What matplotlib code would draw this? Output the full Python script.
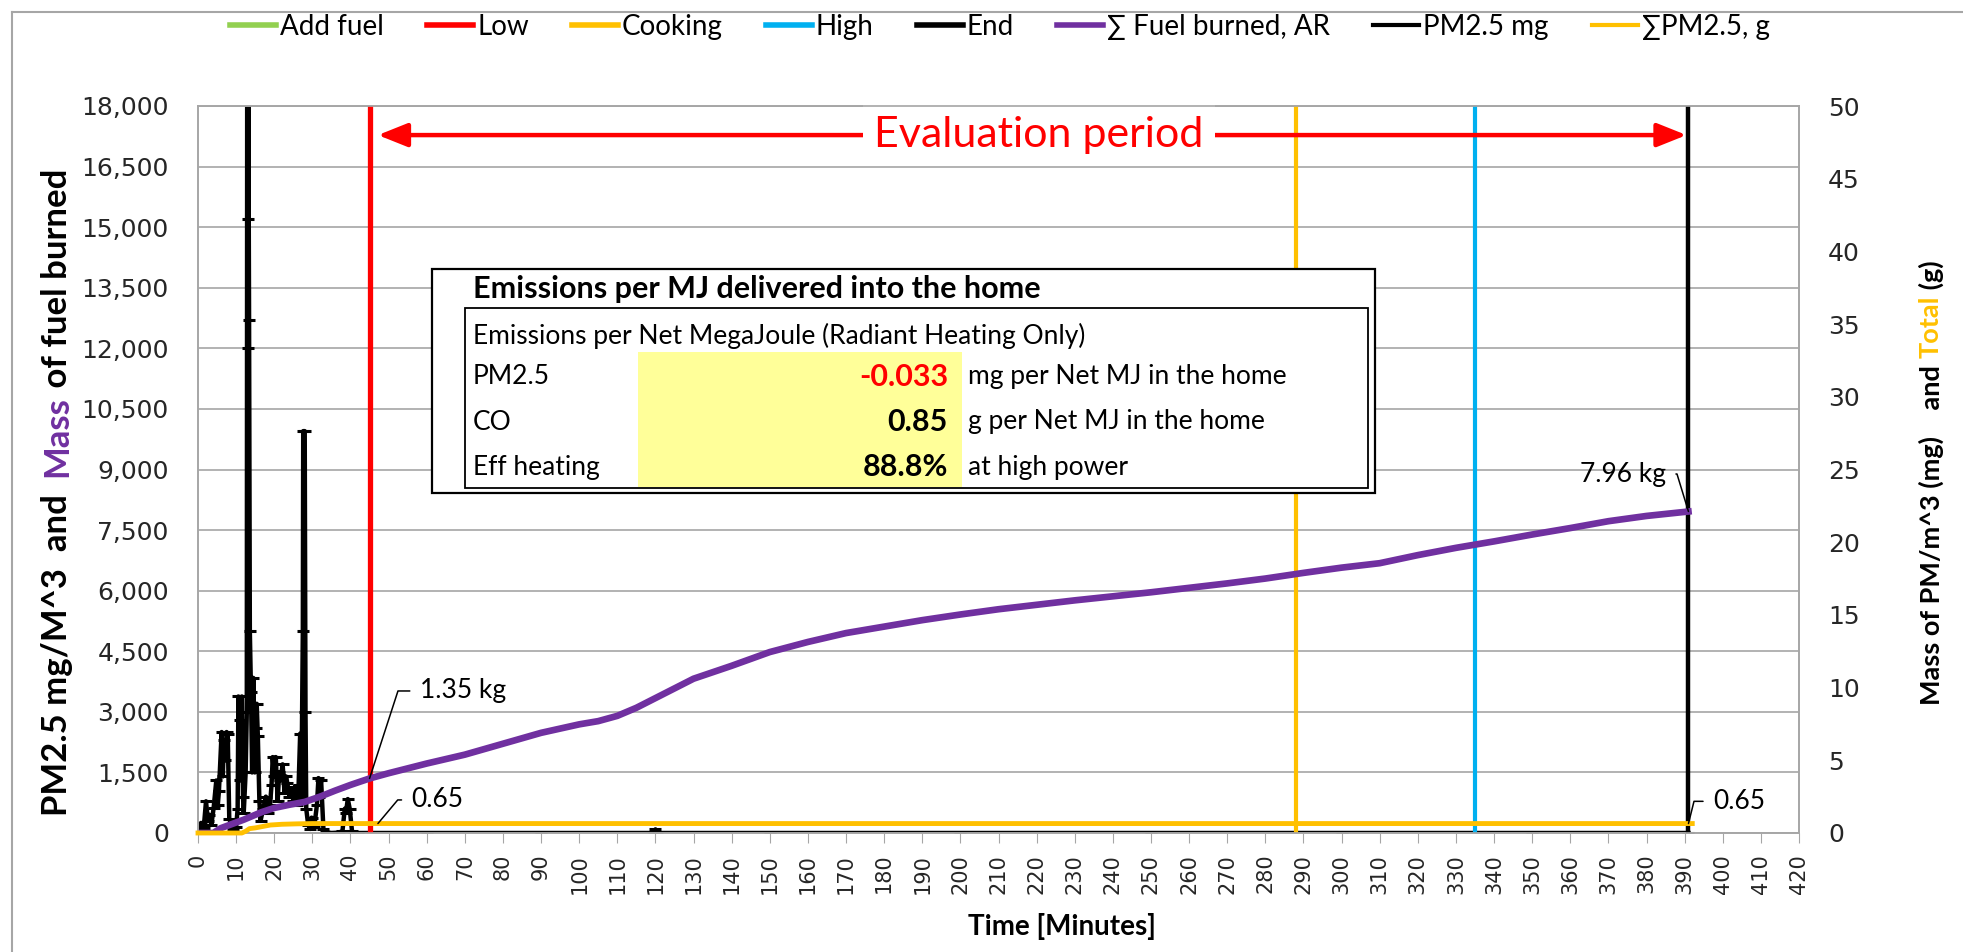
import numpy as np
import matplotlib.pyplot as plt
from matplotlib.lines import Line2D
from matplotlib.patches import Rectangle
from matplotlib.ticker import FuncFormatter

plt.rcParams['font.family'] = ['Lato', 'DejaVu Sans']

# PM2.5 concentration, mg/m^3 (left axis)
pm_min = [
    0.0, 0.8, 1.5, 2.1, 2.6, 3.0, 3.5, 4.1, 4.8, 5.2,
    5.5, 6.2, 6.5, 6.8, 7.2, 7.5, 7.8, 8.2, 9.1, 10.0,
    10.4, 10.6, 10.9, 11.1, 11.5, 11.8, 12.0, 12.5, 12.8, 12.9,
    13.0, 13.1, 13.2, 13.4, 13.6, 13.9, 14.2, 14.5, 14.9, 15.2,
    15.4, 15.7, 16.1, 16.4, 17.1, 17.8, 18.4, 18.9, 19.3, 19.6,
    20.0, 20.4, 20.9, 21.3, 21.6, 22.2, 22.7, 23.1, 23.4, 24.0,
    24.6, 25.0, 25.4, 25.9, 26.4, 26.8, 27.1, 27.5, 27.6, 28.0,
    28.2, 28.4, 28.9, 29.4, 29.8, 30.5, 31.2, 31.6, 31.8, 32.3,
    32.9, 33.5, 35.0, 37.0, 37.9, 38.5, 38.8, 39.3, 39.8, 40.4,
    41.0, 42.0, 60.0, 90.0, 119.5, 120.0, 120.5, 150.0, 200.0, 250.0,
    300.0, 350.0, 391.0,
]
pm_mg = [
    0, 250, 120, 785, 300, 450, 200, 620, 1300, 700,
    1050, 2500, 1400, 2300, 1800, 2500, 2450, 350, 100, 150,
    600, 3380, 1300, 2800, 3380, 900, 500, 1500, 3000, 18500,
    15200, 12000, 18500, 12700, 5000, 3500, 1500, 3840, 1500, 2600,
    3200, 2400, 800, 300, 600, 900, 500, 700, 1200, 1880,
    1400, 1880, 800, 1500, 1300, 1700, 1000, 1400, 1250, 900,
    1100, 800, 1150, 700, 1200, 2460, 800, 5000, 9950, 9950,
    3000, 600, 200, 100, 380, 150, 700, 1360, 900, 1300,
    100, 20, 0, 10, 50, 600, 500, 840, 600, 50,
    0, 0, 0, 0, 0, 90, 0, 0, 0, 0,
    0, 0, 0,
]

# cumulative fuel burned, g (left axis)
fuel_min = [0, 4, 6, 8, 12, 16.7, 20, 24, 28, 32,
            36, 40, 45, 50, 60, 70, 80, 90, 100, 105,
            110, 115, 120, 130, 140, 150, 160, 170, 180, 190,
            200, 210, 220, 230, 240, 250, 260, 270, 280, 290,
            300, 310, 320, 330, 340, 350, 360, 370, 380, 391]
fuel_g = [0, 0, 120, 190, 330, 517, 620, 700, 770, 900,
          1050, 1190, 1350, 1480, 1720, 1940, 2210, 2480, 2690, 2770,
          2900, 3100, 3340, 3820, 4140, 4480, 4730, 4950, 5110, 5270,
          5410, 5540, 5650, 5760, 5860, 5960, 6070, 6180, 6300, 6440,
          6570, 6680, 6880, 7060, 7220, 7390, 7550, 7720, 7850, 7960]

# cumulative PM2.5, g (right axis)
cum_min = [0, 11.5, 12.5, 13.5, 15, 17, 19, 22, 26, 30, 392]
cum_g = [0, 0, 0.12, 0.3, 0.35, 0.45, 0.55, 0.6, 0.63, 0.65, 0.65]

# test phase markers, minutes
add_fuel_min = []
low_min = [45]
cooking_min = [288]
high_min = [335]
end_min = [391]

# summary table
pm_per_mj = -0.033
co_per_mj = 0.85
eff_heating = 88.8

W, H = 1963, 952
fig = plt.figure(figsize=(W / 100, H / 100), dpi=100)
ax = fig.add_axes([198 / W, 1 - 833 / H, 1601 / W, 727 / H])
ax2 = ax.twinx()

grid_c = '#A6A6A6'
ax.set_xlim(0, 420)
ax.set_ylim(0, 18000)
ax2.set_ylim(0, 50)
ax.set_xticks(range(0, 421, 10))
ax.set_yticks(range(0, 18001, 1500))
ax2.set_yticks(range(0, 51, 5))
ax.yaxis.set_major_formatter(FuncFormatter(lambda v, p: f'{v:,.0f}'))
ax.grid(axis='y', color=grid_c, lw=1.2)
ax.set_axisbelow(True)
for a in (ax, ax2):
    for s in a.spines.values():
        s.set_color(grid_c)
        s.set_linewidth(1.2)
ax.tick_params(axis='x', length=7, color=grid_c, pad=8, labelrotation=90,
               labelsize=15, labelcolor='#262626', labelfontfamily='DejaVu Sans')
ax.tick_params(axis='y', length=0, pad=21, labelsize=18,
               labelcolor='#262626', labelfontfamily='DejaVu Sans')
ax2.tick_params(axis='y', length=0, pad=21, labelsize=18,
                labelcolor='#262626', labelfontfamily='DejaVu Sans')

# phase lines
phases = [
    (add_fuel_min, '#92D050', 3.5),
    (low_min, '#FF0000', 3.8),
    (cooking_min, '#FFC000', 3.0),
    (high_min, '#00B0F0', 3.0),
    (end_min, 'black', 3.2),
]
for times, color, lw in phases:
    for t in times:
        ax.axvline(t, color=color, lw=lw, zorder=3)

ax.plot(pm_min, pm_mg, color='black', lw=3.2, marker='_', ms=8, mew=2.2, zorder=2)
ax.plot(fuel_min, fuel_g, color='#7030A0', lw=4.8, zorder=4)
ax2.plot(cum_min, cum_g, color='#FFC000', lw=3.5, zorder=3, clip_on=False)

# evaluation period arrow
eval_y = 17280
ax.annotate('', xy=(390.5, eval_y), xytext=(47.2, eval_y),
            arrowprops=dict(arrowstyle='<|-|>,head_length=1.0,head_width=0.4',
                            color='red', lw=3.2, mutation_scale=18,
                            shrinkA=0, shrinkB=0), zorder=6)
ax.text(220.6, eval_y, 'Evaluation period', color='red', fontsize=31,
        ha='center', va='center', zorder=7,
        bbox=dict(facecolor='white', edgecolor='none', pad=8))


def leader(axes, text, xy, offset, angle_b, left=True):
    axes.annotate(text, xy=xy, xytext=offset, textcoords='offset points',
                  ha='left' if left else 'right', va='center', fontsize=19,
                  zorder=8,
                  arrowprops=dict(arrowstyle='-', color='black', lw=1.1,
                                  shrinkA=5, shrinkB=0,
                                  relpos=(0, 0.5) if left else (1, 0.5),
                                  connectionstyle=f'angle,angleA=0,angleB={angle_b},rad=0'))


t_low = low_min[0]
t_end = end_min[0]
fuel_low = float(np.interp(t_low, fuel_min, fuel_g))
fuel_end = float(np.interp(t_end, fuel_min, fuel_g))
pm_low = float(np.interp(47.2, cum_min, cum_g))
pm_end = float(np.interp(t_end, cum_min, cum_g))
leader(ax, f'{fuel_low / 1000:.2f} kg', (t_low, fuel_low), (36, 63), 72)
leader(ax, f'{fuel_end / 1000:.2f} kg', (t_end, fuel_end), (-16, 27), 107, left=False)
leader(ax2, f'{pm_low:.2f}', (47.2, pm_low), (24, 17), 50)
leader(ax2, f'{pm_end:.2f}', (t_end, pm_end), (17.5, 16), 76)

# legend
leg_items = [
    ('Add fuel', '#92D050', 4), ('Low', '#FF0000', 4), ('Cooking', '#FFC000', 4),
    ('High', '#00B0F0', 4), ('End', 'black', 4), ('∑ Fuel burned, AR', '#7030A0', 4),
    ('PM2.5 mg', 'black', 3), ('∑PM2.5, g', '#FFC000', 3),
]
handles = [Line2D([], [], color=c, lw=l) for _, c, l in leg_items]
fig.legend(handles, [n for n, _, _ in leg_items], loc='center',
           bbox_to_anchor=(1000 / W, 1 - 27 / H), ncol=8, frameon=False,
           fontsize=20, handlelength=1.65, handletextpad=0.15, columnspacing=1.55)


def stacked_label(pieces, x, y, size):
    prev = None
    for text, color in pieces:
        if prev is None:
            prev = ax.annotate(text, xy=(x, y), xycoords='figure pixels', rotation=90,
                               ha='center', va='bottom', fontsize=size,
                               fontweight='bold', color=color, annotation_clip=False)
        else:
            prev = ax.annotate(text, xy=(0.5, 1), xycoords=prev, rotation=90,
                               ha='center', va='bottom', fontsize=size,
                               fontweight='bold', color=color, annotation_clip=False)


stacked_label([('PM2.5 mg/M^3  and  ', 'black'), ('Mass', '#7030A0'),
               (' of fuel burned', 'black')], 57, H - 816, 25)
stacked_label([('Mass of PM/m^3 (mg)    and ', 'black'), ('Total', '#FFC000'),
               (' (g)', 'black')], 1931, H - 705, 19.5)
fig.text(1062 / W, 1 - 927 / H, 'Time [Minutes]', ha='center', va='center',
         fontsize=20, fontweight='bold')

# chart frame
fig.add_artist(Line2D([12 / W, 1], [1 - 12 / H, 1 - 12 / H], color=grid_c, lw=1.5))
fig.add_artist(Line2D([12 / W, 12 / W], [0, 1 - 12 / H], color=grid_c, lw=1.5))


# emissions table
def fig_rect(x0, y0, x1, y1, **kw):
    fig.add_artist(Rectangle((x0 / W, 1 - y1 / H), (x1 - x0) / W, (y1 - y0) / H,
                             transform=fig.transFigure, **kw))


def fig_txt(x, y, s, **kw):
    fig.text(x / W, 1 - y / H, s, va='center', **kw)


fig_rect(432, 269, 1375, 493, facecolor='white', edgecolor='black', lw=1.6, zorder=5)
fig_rect(638, 352, 962, 487, facecolor='#FFFF99', edgecolor='none', zorder=5)
fig_rect(465, 308, 1368, 488, facecolor='none', edgecolor='black', lw=1.3, zorder=5)
fig_txt(473, 289, 'Emissions per MJ delivered into the home', fontsize=22,
        fontweight='bold', zorder=6)
fig_txt(473, 336, 'Emissions per Net MegaJoule (Radiant Heating Only)', fontsize=19, zorder=6)
rows = [
    ('PM2.5', f'{pm_per_mj:.3f}', 'red', 'mg per Net MJ in the home'),
    ('CO', f'{co_per_mj:.2f}', 'black', 'g per Net MJ in the home'),
    ('Eff heating', f'{eff_heating:.1f}%', 'black', 'at high power'),
]
for (name, val, vc, unit), y in zip(rows, [377, 422, 467]):
    fig_txt(473, y, name, fontsize=19, zorder=6)
    fig_txt(948, y, val, fontsize=22, fontweight='bold', color=vc, ha='right', zorder=6)
    fig_txt(968, y, unit, fontsize=19, zorder=6)

fig.savefig('out.png', dpi=100, facecolor='white')
